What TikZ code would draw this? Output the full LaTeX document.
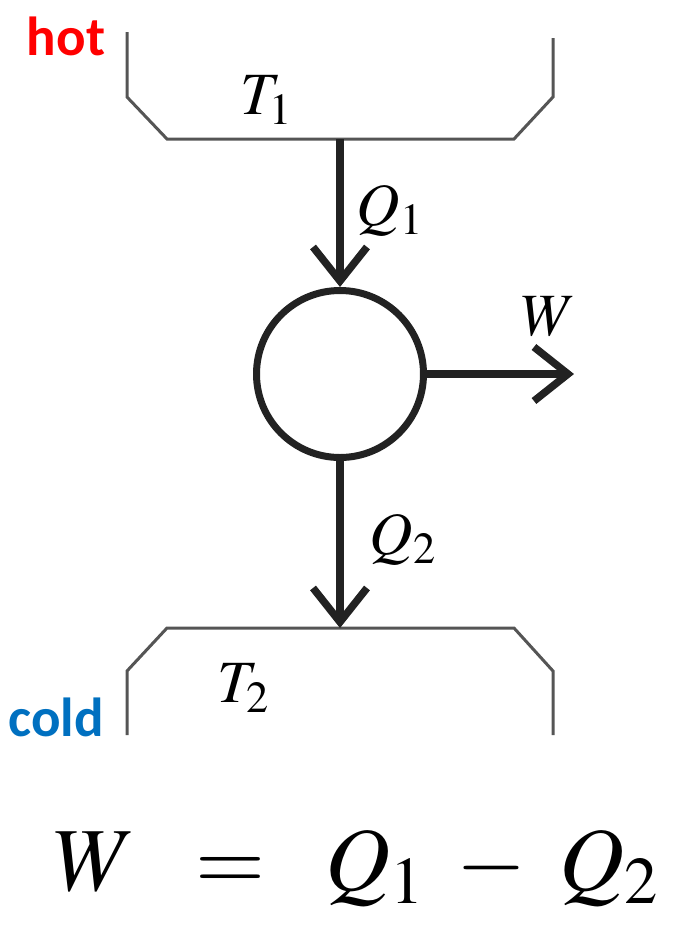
\documentclass[tikz,border=0pt]{standalone}
\usepackage{mathptmx}
\usepackage[no-math]{fontspec}
\newfontfamily\labelfont{Carlito}
\usepackage{xcolor}
\usetikzlibrary{arrows.meta,positioning,calc}
\definecolor{hotred}{RGB}{255,0,0}
\definecolor{coldblue}{RGB}{0,112,192}
\definecolor{wallgray}{RGB}{85,85,85}
\definecolor{flowdark}{RGB}{34,34,34}

\begin{document}
\begin{tikzpicture}[
  x=1pt, y=-1pt,
  wall/.style={draw=wallgray, line width=3pt, line join=miter},
  arr/.style={draw=flowdark, line width=8pt, -{Straight Barb[length=34pt, width=54pt, line width=7.5pt]}},
  engine/.style={circle, draw=flowdark, line width=7pt, minimum size=167pt, inner sep=0pt},
  sym/.style={font=\fontsize{60}{60}\selectfont, inner sep=0pt},
  tag/.style={font=\fontsize{55}{55}\selectfont\labelfont\bfseries, inner sep=0pt},
]
  \useasboundingbox (0,0) rectangle (679,930);

  \draw[wall] (127,32) -- (127,97) -- (167,139) -- (514,139) -- (553,97) -- (553,38);
  \draw[wall] (127,735) -- (127,671) -- (167,628) -- (514,628) -- (553,671) -- (553,735);
  \coordinate (hotside) at (340,139);
  \coordinate (coldside) at (340,628);

  \node[engine] (eng) at (340,374) {};
  \coordinate (wout) at (574,374);

  \draw[arr] (hotside) -- (eng);
  \draw[arr] (eng) -- (coldside);
  \draw[arr] (eng.east) -- (wout);

  \node[tag, text=hotred] (hot) at (66,36) {hot};
  \node[tag, text=coldblue] (cold) at (56,717) {cold};

  \node[sym] (t1) at (266,100) {$T_1$};
  \node[sym] (q1) at (390,211) {$Q_1$};
  \node[sym] (w) at (549,317) {$W$};
  \node[sym] (q2) at (403,540) {$Q_2$};
  \node[sym] (t2) at (243,688) {$T_2$};

  \node[font=\fontsize{90}{90}\selectfont, inner sep=0pt] (law) at (356,868) {$W \;\;=\;\; Q_1 \mkern4mu-\mkern4mu Q_2$};
\end{tikzpicture}
\end{document}
